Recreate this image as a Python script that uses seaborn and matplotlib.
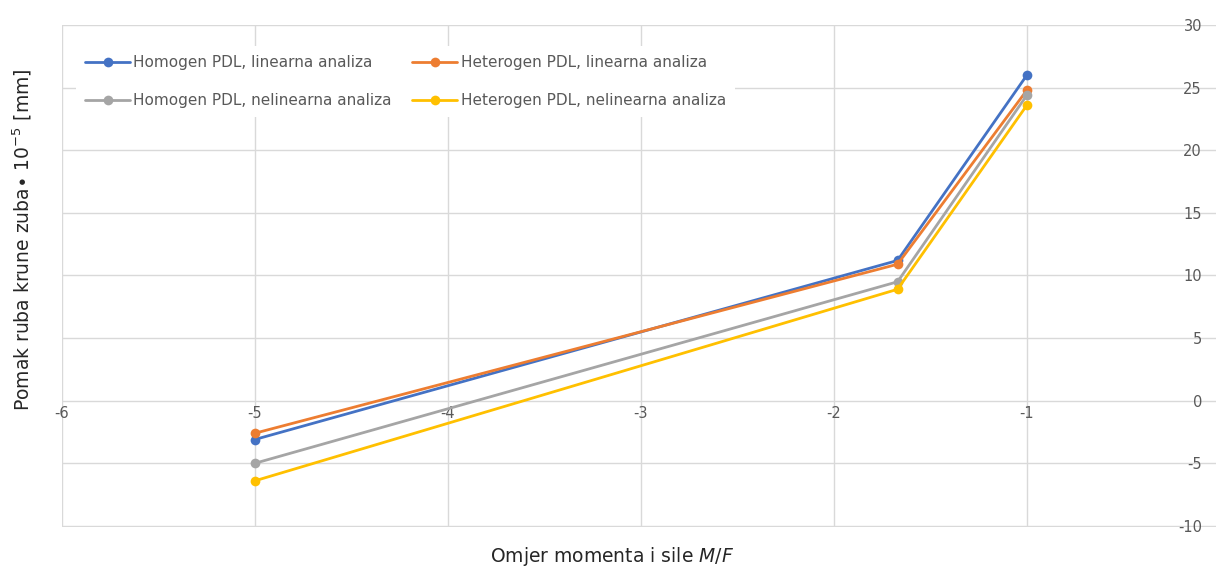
import matplotlib
matplotlib.use("Agg")
import matplotlib.pyplot as plt
import seaborn as sns

# data
omjer = [-5, -1.67, -1]
homogen_lin = [-3.1, 11.2, 26.0]
heterogen_lin = [-2.6, 10.9, 24.8]
homogen_nelin = [-5.0, 9.5, 24.4]
heterogen_nelin = [-6.4, 8.9, 23.6]

labels = ["Homogen PDL, linearna analiza", "Heterogen PDL, linearna analiza",
          "Homogen PDL, nelinearna analiza", "Heterogen PDL, nelinearna analiza"]
colors = ["#4472C4", "#ED7D31", "#A5A5A5", "#FFC000"]
series = [homogen_lin, heterogen_lin, homogen_nelin, heterogen_nelin]

sns.set_style("white")
plt.rcParams["font.family"] = ["DejaVu Sans"]
plt.rcParams["axes.unicode_minus"] = False
plt.rcParams["mathtext.fontset"] = "dejavusans"

fig = plt.figure(figsize=(12.16, 5.70), dpi=100)
ax = fig.add_axes([61.5 / 1216, 43.5 / 570, (1220 - 61.5) / 1216, 501.5 / 570])

for vals, lab, c in zip(series, labels, colors):
    sns.lineplot(x=omjer, y=vals, ax=ax, color=c, label=lab, marker="o",
                 markersize=7, markeredgewidth=0, linewidth=2.0)

ax.set_xlim(-6, 0)
ax.set_ylim(-10.04, 30)  # tiny margin so the -10 gridline shows
ax.set_xticks(range(-6, 1))
ax.set_yticks(range(-10, 31, 5))
ax.grid(True, color="#d9d9d9", linewidth=1)
ax.set_axisbelow(True)

for s in ax.spines.values():
    s.set_visible(False)
ax.spines["left"].set_position(("data", 0))
ax.spines["bottom"].set_position(("data", 0))
ax.tick_params(axis="y", length=0, pad=13, labelsize=10.5, labelcolor="#595959")
ax.tick_params(axis="x", length=0, pad=4, labelsize=10.5, labelcolor="#595959")

fig.text(612 / 1216, 1 - 556 / 570, "Omjer momenta i sile $\\mathit{M/F}$",
         ha="center", va="center", fontsize=13.5, color="#262626")
fig.text(22 / 1216, 1 - 240 / 570,
         "Pomak ruba krune zuba\u2219 10$^{-5}$ [mm]",
         rotation=90, ha="center", va="center", fontsize=13.5, color="#262626")

# legend filled row by row, like the reference
h, l = ax.get_legend_handles_labels()
order = [0, 2, 1, 3]
ax.legend([h[i] for i in order], [l[i] for i in order],
          loc="upper left", bbox_to_anchor=(0.0125, 0.958), ncol=2,
          frameon=True, facecolor="white", edgecolor="none", framealpha=1,
          fontsize=11, labelcolor="#595959", handlelength=2.95,
          handletextpad=0.2, columnspacing=1.35, labelspacing=1.5,
          borderpad=0.6, borderaxespad=0)

fig.savefig("out.png", dpi=100)
